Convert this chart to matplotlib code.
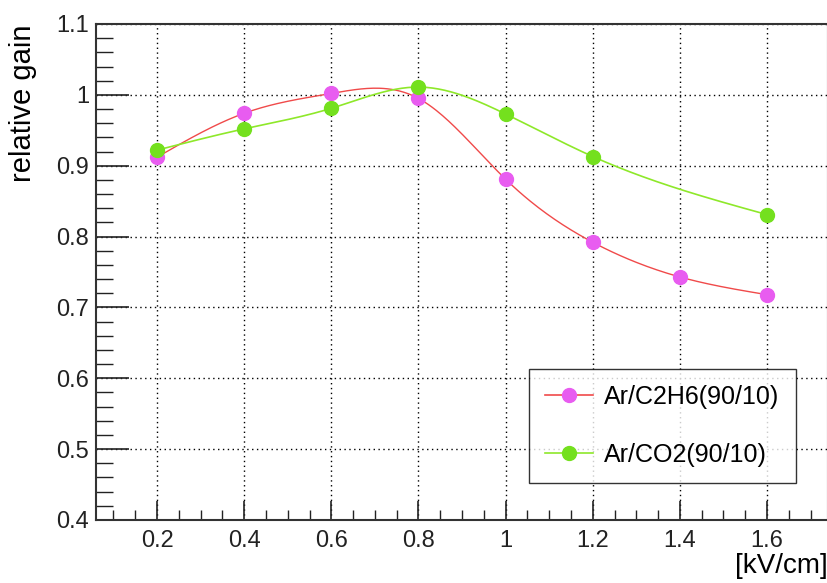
import numpy as np
import matplotlib.pyplot as plt
from matplotlib.ticker import MultipleLocator

plt.rcParams['font.family'] = ['Liberation Sans', 'DejaVu Sans']

# field values [kV/cm] and relative gain
x_c2h6 = [0.2, 0.4, 0.6, 0.8, 1.0, 1.2, 1.4, 1.6]
y_c2h6 = [0.912, 0.974, 1.002, 0.995, 0.881, 0.792, 0.743, 0.718]
x_co2 = [0.2, 0.4, 0.6, 0.8, 1.0, 1.2, 1.6]
y_co2 = [0.922, 0.952, 0.981, 1.011, 0.973, 0.913, 0.831]
labels = ["Ar/C2H6(90/10)", "Ar/CO2(90/10)"]


def smooth(xs, ys, n=300):
    # natural cubic spline, like ROOT's "C" draw option
    xs = np.asarray(xs, float)
    ys = np.asarray(ys, float)
    k = len(xs)
    h = np.diff(xs)
    A = np.zeros((k, k))
    b = np.zeros(k)
    A[0, 0] = A[-1, -1] = 1
    for i in range(1, k - 1):
        A[i, i - 1] = h[i - 1]
        A[i, i] = 2 * (h[i - 1] + h[i])
        A[i, i + 1] = h[i]
        b[i] = 6 * ((ys[i + 1] - ys[i]) / h[i] - (ys[i] - ys[i - 1]) / h[i - 1])
    m = np.linalg.solve(A, b)
    xx = np.linspace(xs[0], xs[-1], n)
    idx = np.clip(np.searchsorted(xs, xx) - 1, 0, k - 2)
    x0, x1 = xs[idx], xs[idx + 1]
    hh = x1 - x0
    t0, t1 = x1 - xx, xx - x0
    yy = (m[idx] * t0**3 + m[idx + 1] * t1**3) / (6 * hh) \
        + (ys[idx] / hh - m[idx] * hh / 6) * t0 \
        + (ys[idx + 1] / hh - m[idx + 1] * hh / 6) * t1
    return xx, yy


fig = plt.figure(figsize=(8.27, 5.83), dpi=100)
ax = fig.add_axes([96 / 827, 63 / 583, 732 / 827, 496 / 583])

red, magenta = "#f04a4a", "#e85cf0"
lgreen, green = "#8ee82a", "#74e01e"

xx, yy = smooth(x_c2h6, y_c2h6)
ax.plot(xx, yy, color=red, lw=1.0, zorder=3)
xx, yy = smooth(x_co2, y_co2)
ax.plot(xx, yy, color=lgreen, lw=1.2, zorder=3)
ax.plot(x_c2h6, y_c2h6, "o", color=magenta, ms=10, zorder=4)
ax.plot(x_co2, y_co2, "o", color=green, ms=10, zorder=4)

# legend proxies
h1, = ax.plot([], [], "-o", color=red, mfc=magenta, mec=magenta, ms=10, lw=1.2)
h2, = ax.plot([], [], "-o", color=lgreen, mfc=green, mec=green, ms=10, lw=1.2)
leg = ax.legend([h1, h2], labels, loc="lower left", bbox_to_anchor=(433 / 732, 37 / 496),
                fontsize=18, frameon=True, fancybox=False, borderpad=0.65,
                labelspacing=1.35, handlelength=1.9, handletextpad=0.45, borderaxespad=0)
leg.get_frame().set_edgecolor("black")
leg.get_frame().set_linewidth(1.0)

ax.set_xlim(0.06, 1.74)
ax.set_ylim(0.4, 1.1)
ax.xaxis.set_major_locator(MultipleLocator(0.2))
ax.xaxis.set_minor_locator(MultipleLocator(0.05))
ax.yaxis.set_major_locator(MultipleLocator(0.1))
ax.yaxis.set_minor_locator(MultipleLocator(0.02))
ax.set_xticks([0.2, 0.4, 0.6, 0.8, 1.0, 1.2, 1.4, 1.6])
ax.set_xticklabels(["0.2", "0.4", "0.6", "0.8", "1", "1.2", "1.4", "1.6"])
ax.set_yticks([0.4, 0.5, 0.6, 0.7, 0.8, 0.9, 1.0, 1.1])
ax.set_yticklabels(["0.4", "0.5", "0.6", "0.7", "0.8", "0.9", "1", "1.1"])
ax.tick_params(axis="both", which="both", direction="in", labelsize=17, colors="#222222")
ax.tick_params(axis="x", which="major", length=14, width=1.2, pad=7)
ax.tick_params(axis="x", which="minor", length=7, width=1.0)
ax.tick_params(axis="y", which="major", length=24, width=1.2, pad=5)
ax.tick_params(axis="y", which="minor", length=12, width=1.0)
ax.tick_params(top=False, right=False, which="both")
ax.grid(True, which="major", ls=(0, (1, 2.5)), color="black", lw=1.0)
for s in ax.spines.values():
    s.set_linewidth(1.5)
    s.set_color("#333333")

ax.set_xlabel("[kV/cm]", fontsize=20, loc="right", labelpad=1)
ax.set_ylabel("relative gain", fontsize=21, loc="top", labelpad=14)

fig.savefig("out.png", dpi=100)
